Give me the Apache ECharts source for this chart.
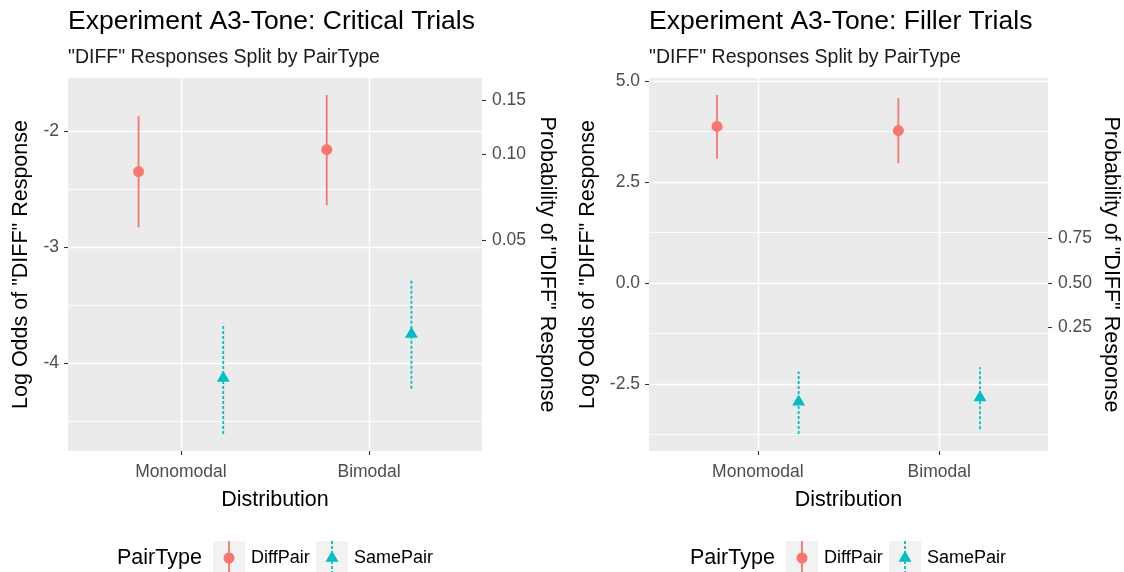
<!DOCTYPE html>
<html>
<head>
<meta charset="utf-8">
<script src="https://cdn.jsdelivr.net/npm/echarts@6/dist/echarts.min.js"></script>
<style>
  html, body { margin: 0; padding: 0; background: #ffffff; }
  #chart { width: 1124px; height: 572px; }
</style>
</head>
<body>
<div id="chart"></div>
<script>
// ---- data -------------------------------------------------------------
const categories = ['Monomodal', 'Bimodal'];
const pairTypes = ['DiffPair', 'SamePair'];

// Critical trials: log-odds estimate and 95% interval per distribution
const criticalDiffMid  = [-2.35, -2.16];
const criticalDiffLow  = [-2.83, -2.64];
const criticalDiffHigh = [-1.87, -1.69];
const criticalSameMid  = [-4.13, -3.75];
const criticalSameLow  = [-4.61, -4.22];
const criticalSameHigh = [-3.66, -3.28];

// Filler trials
const fillerDiffMid  = [3.87, 3.77];
const fillerDiffLow  = [3.07, 2.96];
const fillerDiffHigh = [4.65, 4.57];
const fillerSameMid  = [-2.95, -2.84];
const fillerSameLow  = [-3.74, -3.62];
const fillerSameHigh = [-2.19, -2.09];

// Tick values
const criticalMajorTicks = [-4, -3, -2];
const criticalMinorTicks = [-4.5, -3.5, -2.5];
const criticalProbTicks  = [0.05, 0.10, 0.15];
const fillerMajorTicks = [-2.5, 0, 2.5, 5];
const fillerMinorTicks = [-3.75, -1.25, 1.25, 3.75];
const fillerProbTicks  = [0.25, 0.50, 0.75];

// ---- styling -----------------------------------------------------------
const FONT = '"Liberation Sans", Arial, sans-serif';
const COLORS = { DiffPair: '#F8766D', SamePair: '#00BFC4' };
const PANEL_BG = '#EBEBEB';
const AXIS_TEXT = '#4D4D4D';
const DODGE = 0.225;

const logit = p => Math.log(p / (1 - p));
const invLogit = v => 1 / (1 + Math.exp(-v));

const panels = [
  {
    title: 'Experiment A3-Tone: Critical Trials',
    grid: { left: 68, top: 78, width: 414, height: 373 },
    diff: [criticalDiffMid, criticalDiffLow, criticalDiffHigh],
    same: [criticalSameMid, criticalSameLow, criticalSameHigh],
    major: criticalMajorTicks, minor: criticalMinorTicks, prob: criticalProbTicks,
    decimals: 0, leftGap: 36, rightGap: 54, legendX: 117
  },
  {
    title: 'Experiment A3-Tone: Filler Trials',
    grid: { left: 649, top: 78, width: 399, height: 373 },
    diff: [fillerDiffMid, fillerDiffLow, fillerDiffHigh],
    same: [fillerSameMid, fillerSameLow, fillerSameHigh],
    major: fillerMajorTicks, minor: fillerMinorTicks, prob: fillerProbTicks,
    decimals: 1, leftGap: 50, rightGap: 52, legendX: 690
  }
];

const option = {
  animation: false,
  backgroundColor: '#ffffff',
  textStyle: { fontFamily: FONT },
  title: [], grid: [], xAxis: [], yAxis: [], series: [], graphic: []
};

function errorBarSeries(name, gridIdx, yIdx, rows, dashed) {
  return {
    type: 'custom', name: name, xAxisIndex: gridIdx, yAxisIndex: yIdx, z: 3,
    silent: true,
    encode: { x: 0, y: [1, 2] },
    data: rows,
    renderItem: function (params, api) {
      const p1 = api.coord([api.value(0), api.value(1)]);
      const p2 = api.coord([api.value(0), api.value(2)]);
      return {
        type: 'line',
        shape: { x1: p1[0], y1: p1[1], x2: p2[0], y2: p2[1] },
        style: { stroke: COLORS[name], lineWidth: 1.8, lineDash: dashed ? [3, 2] : null }
      };
    }
  };
}

panels.forEach(function (pn, i) {
  const allLow = pn.diff[1].concat(pn.same[1]);
  const allHigh = pn.diff[2].concat(pn.same[2]);
  const lo = Math.min.apply(null, allLow), hi = Math.max.apply(null, allHigh);
  const pad = (hi - lo) * 0.05;
  const yMin = lo - pad, yMax = hi + pad;

  option.title.push({
    text: pn.title,
    subtext: '"DIFF" Responses Split by PairType',
    left: pn.grid.left, top: 8, itemGap: 13, padding: 0,
    textStyle: { fontFamily: FONT, fontSize: 26.5, fontWeight: 'normal', color: '#000000' },
    subtextStyle: { fontFamily: FONT, fontSize: 19.5, color: '#1A1A1A' }
  });

  option.grid.push(Object.assign({ show: true, backgroundColor: PANEL_BG, borderWidth: 0 }, pn.grid));

  option.xAxis.push({
    type: 'value', gridIndex: i, min: 0.4, max: 2.6,
    name: 'Distribution', nameLocation: 'middle', nameGap: 38,
    nameTextStyle: { fontFamily: FONT, fontSize: 21.5, color: '#000000' },
    axisLine: { show: false, onZero: false },
    axisTick: { show: true, length: 4, customValues: [1, 2], lineStyle: { color: '#333333', width: 1.1 } },
    axisLabel: {
      customValues: [1, 2], margin: 12, fontFamily: FONT, fontSize: 17.5, color: AXIS_TEXT,
      formatter: v => categories[Math.round(v) - 1]
    },
    splitLine: { show: true, lineStyle: { color: '#ffffff', width: 1.4 } }
  });

  // primary log-odds axis
  option.yAxis.push({
    type: 'value', gridIndex: i, position: 'left', min: yMin, max: yMax,
    name: 'Log Odds of "DIFF" Response', nameLocation: 'middle', nameGap: pn.leftGap,
    nameTextStyle: { fontFamily: FONT, fontSize: 21.5, color: '#000000' },
    axisLine: { show: false, onZero: false },
    axisTick: { show: true, length: 4, customValues: pn.major, lineStyle: { color: '#333333', width: 1.1 } },
    axisLabel: {
      customValues: pn.major, margin: 9, fontFamily: FONT, fontSize: 17.5, color: AXIS_TEXT,
      formatter: v => v.toFixed(pn.decimals)
    },
    splitLine: { show: true, lineStyle: { color: '#ffffff', width: 1.4 } }
  });

  // secondary probability axis, placed on the logit scale
  const probPos = pn.prob.map(logit);
  option.yAxis.push({
    type: 'value', gridIndex: i, position: 'right', min: yMin, max: yMax,
    name: 'Probability of "DIFF" Response', nameLocation: 'middle', nameGap: pn.rightGap,
    nameRotate: -90,
    nameTextStyle: { fontFamily: FONT, fontSize: 21.5, color: '#000000' },
    axisLine: { show: false, onZero: false },
    axisTick: { show: true, length: 4, customValues: probPos, lineStyle: { color: '#333333', width: 1.1 } },
    axisLabel: {
      customValues: probPos, margin: 10, fontFamily: FONT, fontSize: 17.5, color: AXIS_TEXT,
      formatter: v => invLogit(v).toFixed(2)
    },
    splitLine: { show: false }
  });

  // minor gridlines
  option.yAxis.push({
    type: 'value', gridIndex: i, position: 'left', min: yMin, max: yMax,
    axisLine: { show: false, onZero: false },
    axisTick: { show: false, customValues: pn.minor },
    axisLabel: { show: false, customValues: pn.minor },
    splitLine: { show: true, lineStyle: { color: '#ffffff', width: 0.9 } }
  });

  const yIdx = i * 3;
  const groups = { DiffPair: pn.diff, SamePair: pn.same };
  pairTypes.forEach(function (pt, k) {
    const off = k === 0 ? -DODGE : DODGE;
    const g = groups[pt];
    const rows = categories.map((c, j) => [j + 1 + off, g[1][j], g[2][j]]);
    const pts = categories.map((c, j) => [j + 1 + off, g[0][j]]);
    option.series.push(errorBarSeries(pt, i, yIdx, rows, pt === 'SamePair'));
    option.series.push({
      type: 'scatter', name: pt, xAxisIndex: i, yAxisIndex: yIdx, z: 4, silent: true,
      symbol: pt === 'DiffPair' ? 'circle' : 'triangle',
      symbolSize: pt === 'DiffPair' ? 11 : [13, 11],
      symbolOffset: pt === 'DiffPair' ? [0, 0] : [0, -2],
      itemStyle: { color: COLORS[pt], opacity: 1 },
      data: pts
    });
  });

  // legend
  const lx = pn.legendX, ly = 558;
  const keyOffsets = [96, 199];
  const textOffsets = [134, 237];
  const children = [{
    type: 'text', x: lx, y: ly,
    style: { text: 'PairType', fontFamily: FONT, fontSize: 21.5, fill: '#000000', verticalAlign: 'middle' }
  }];
  pairTypes.forEach(function (pt, k) {
    const bx = lx + keyOffsets[k], cx = bx + 16;
    children.push({ type: 'rect', shape: { x: bx, y: 541, width: 32, height: 34 }, style: { fill: '#F2F2F2' } });
    children.push({
      type: 'line', shape: { x1: cx, y1: 541, x2: cx, y2: 575 },
      style: { stroke: COLORS[pt], lineWidth: 1.8, lineDash: pt === 'SamePair' ? [3, 2] : null }
    });
    if (pt === 'DiffPair') {
      children.push({ type: 'circle', shape: { cx: cx, cy: ly, r: 5.5 }, style: { fill: COLORS[pt] } });
    } else {
      children.push({
        type: 'polygon',
        shape: { points: [[cx, ly - 7.3], [cx + 6.5, ly + 3.7], [cx - 6.5, ly + 3.7]] },
        style: { fill: COLORS[pt] }
      });
    }
    children.push({
      type: 'text', x: lx + textOffsets[k], y: ly,
      style: { text: pt, fontFamily: FONT, fontSize: 18, fill: '#000000', verticalAlign: 'middle' }
    });
  });
  option.graphic.push({ type: 'group', x: 0, y: 0, children: children, silent: true });
});

const chart = echarts.init(document.getElementById('chart'), null, { renderer: 'canvas' });
chart.setOption(option);
</script>
</body>
</html>
